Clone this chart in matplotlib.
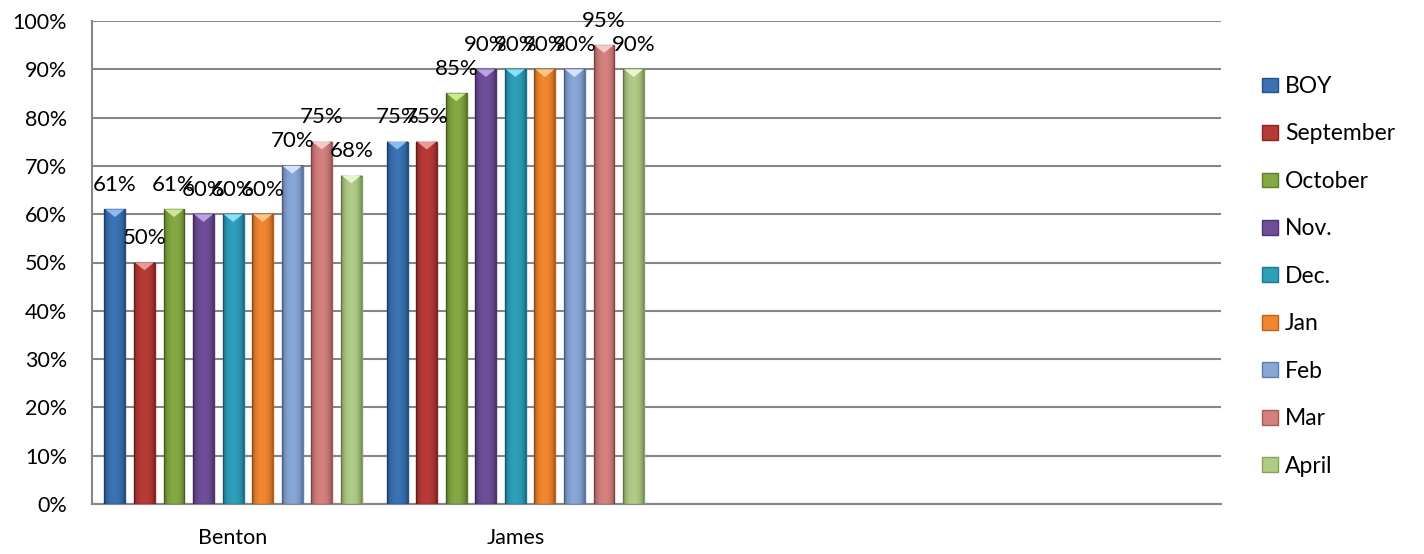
import matplotlib
matplotlib.use("Agg")
import matplotlib.pyplot as plt
from matplotlib.patches import Polygon, Patch
import numpy as np

# ----------------------------------------------------------------------------
# Data
# ----------------------------------------------------------------------------
schools = ["Benton", "James"]
months = ["BOY", "September", "October", "Nov.", "Dec.", "Jan", "Feb", "Mar", "April"]
benton = [61, 50, 61, 60, 60, 60, 70, 75, 68]
james = [75, 75, 85, 90, 90, 90, 90, 95, 90]
yticks = [0, 10, 20, 30, 40, 50, 60, 70, 80, 90, 100]

# ----------------------------------------------------------------------------
# Style
# ----------------------------------------------------------------------------
N_SLOTS = 4            # chart axis reserves room for 4 categories
SLOT = 0.1047          # spacing between bars within a group
BAR_W = 0.074
FS = 15.5
GRID = "#868686"

face = ["#3A72B4", "#B83A36", "#84A842", "#6E4E99", "#2E9FBB",
        "#F2862F", "#88A6D6", "#D4807E", "#B0CB86"]
edge = ["#25528A", "#8A2422", "#5F7D2A", "#4D3570", "#1D7890",
        "#C0621A", "#5F7FAE", "#A85A58", "#86A35D"]
tip = ["#8DBBEF", "#EE9896", "#CDE890", "#BBA2E4", "#86E2F6",
       "#FFC68A", "#D3E2FF", "#F6C8C7", "#E8F6CC"]

plt.rcParams["font.family"] = ["Lato", "DejaVu Sans"]

fig = plt.figure(figsize=(14.24, 5.54), dpi=100)
ax = fig.add_axes([92 / 1424, 1 - 504 / 554, (1221 - 92) / 1424, (504 - 21) / 554])

values = np.array([benton, james])   # (school, month)
x = np.arange(len(schools))

# horizontal shading profile to fake the bevelled bar look
t = np.linspace(0, 1, 64)
shade = np.zeros((1, t.size, 4))
shade[0, :, 3] = 0.30 * np.abs(2 * t - 1) ** 2.5

for mi, m in enumerate(months):
    xs = x + (mi - (len(months) - 1) / 2) * SLOT
    vals = values[:, mi]
    bars = ax.bar(xs, vals, width=BAR_W, color=face[mi], edgecolor=edge[mi],
                  linewidth=1.0, zorder=3, label=m)
    for b, v in zip(bars, vals):
        x0 = b.get_x()
        x1 = x0 + b.get_width()
        top = b.get_height()
        ax.imshow(shade, extent=[x0, x1, 0, top], aspect="auto",
                  interpolation="bilinear", zorder=3.5)
        # bevel highlight on top of each bar
        ax.add_patch(Polygon([[x0 + 0.003, top], [x1 - 0.003, top],
                              [(x0 + x1) / 2, top - 1.6]],
                             closed=True, facecolor=tip[mi], edgecolor="none",
                             zorder=4))
        ax.annotate(f"{v:.0f}%", ((x0 + x1) / 2, top),
                    xytext=(0, 10.5), textcoords="offset points",
                    ha="center", va="bottom", fontsize=16, color="black",
                    zorder=5)

ax.set_xlim(-0.5, N_SLOTS - 0.5)
ax.set_ylim(0, 100)
ax.set_yticks(yticks)
ax.set_yticklabels([f"{t}%" for t in yticks])
ax.set_xticks(np.arange(N_SLOTS))
ax.set_xticklabels(schools + [""] * (N_SLOTS - len(schools)))
ax.tick_params(axis="both", length=0, labelsize=FS, colors="black")
ax.tick_params(axis="y", pad=18)
ax.tick_params(axis="x", pad=17)

ax.set_axisbelow(True)
ax.yaxis.grid(True, color=GRID, linewidth=1.5)
for s in ["top", "right"]:
    ax.spines[s].set_visible(False)
for s in ["left", "bottom"]:
    ax.spines[s].set_color(GRID)
    ax.spines[s].set_linewidth(1.5)

handles = [Patch(facecolor=face[i], edgecolor=edge[i], linewidth=1.0)
           for i in range(len(months))]
fig.legend(handles, months, loc="upper left",
           bbox_to_anchor=(1262 / 1424, 1 - 76 / 554),
           frameon=False, fontsize=16.5, handlelength=0.7, handleheight=0.61,
           handletextpad=0.31, labelspacing=1.155, borderpad=0, borderaxespad=0)

fig.savefig("out.png", dpi=100)
